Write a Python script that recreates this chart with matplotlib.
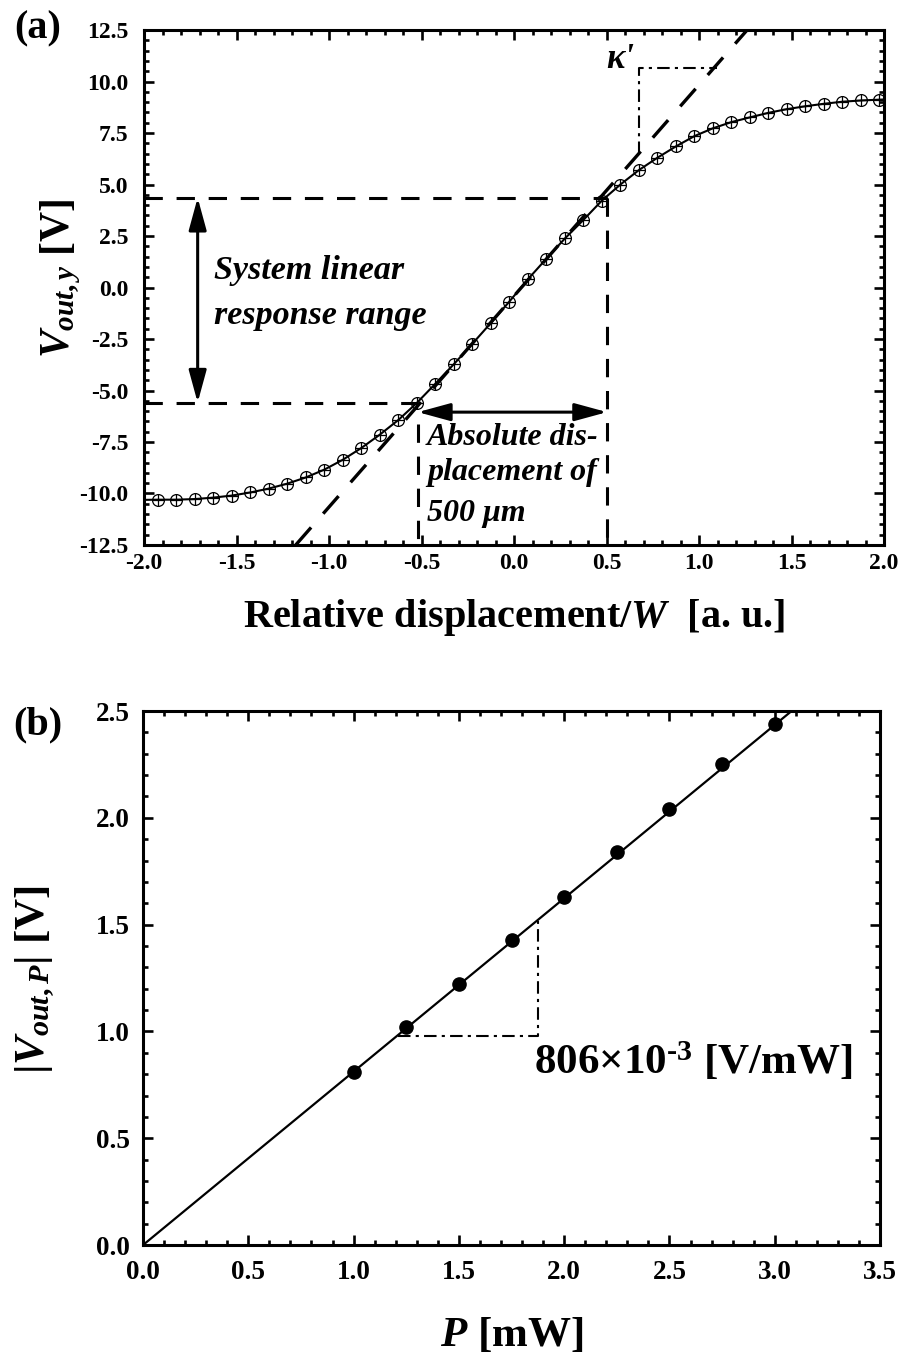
import matplotlib
matplotlib.use('Agg')
import matplotlib.pyplot as plt
from matplotlib.ticker import MultipleLocator, FormatStrFormatter

plt.rcParams['font.family'] = ['Liberation Serif', 'DejaVu Serif']
plt.rcParams['font.weight'] = 'bold'
plt.rcParams['mathtext.fontset'] = 'custom'
plt.rcParams['mathtext.rm'] = 'Liberation Serif:bold'
plt.rcParams['mathtext.it'] = 'Liberation Serif:italic:bold'
plt.rcParams['mathtext.bf'] = 'Liberation Serif:bold'
plt.rcParams['axes.unicode_minus'] = False

# (a) output voltage vs relative displacement
disp = [-1.925, -1.825, -1.725, -1.625, -1.525, -1.425, -1.325, -1.225, -1.125, -1.025,
        -0.925, -0.825, -0.725, -0.625, -0.525, -0.425, -0.325, -0.225, -0.125, -0.025,
        0.075, 0.175, 0.275, 0.375, 0.475, 0.575, 0.675, 0.775, 0.875, 0.975,
        1.075, 1.175, 1.275, 1.375, 1.475, 1.575, 1.675, 1.775, 1.875, 1.975]
vout_y = [-10.30, -10.30, -10.27, -10.20, -10.10, -9.95, -9.76, -9.52, -9.22, -8.84,
          -8.36, -7.79, -7.14, -6.43, -5.60, -4.67, -3.72, -2.73, -1.72, -0.68,
          0.40, 1.40, 2.38, 3.28, 4.22, 5.00, 5.70, 6.30, 6.85, 7.35,
          7.73, 8.03, 8.26, 8.48, 8.66, 8.80, 8.92, 9.02, 9.08, 9.12]
edge_x = [-2.0, 2.0]
edge_y = [-10.31, 9.13]

# tangent through the linear part
tangent_x = [-1.18, 1.26]
tangent_y = [-12.5, 12.5]

# limits of the linear response range
lin_x = [-0.52, 0.503]
lin_y = [-5.59, 4.36]
arrow_x = -1.71      # vertical double arrow
arrow_y = -6.05      # horizontal double arrow

# slope triangle (kappa')
kap_x = [0.677, 1.095]
kap_y = [6.50, 10.68]

# (b) output voltage vs optical power
power = [1.0, 1.25, 1.5, 1.75, 2.0, 2.25, 2.5, 2.75, 3.0]
vout_p = [0.81, 1.02, 1.22, 1.43, 1.63, 1.84, 2.04, 2.25, 2.44]
fit_p = [0.0, 3.08]
fit_v = [0.0, 2.5]
sens_x = [1.213, 1.878]
sens_y = [0.98, 1.527]

fig = plt.figure(figsize=(9.04, 13.53), dpi=100)
ax1 = fig.add_axes([0.1593, 0.5972, 0.8186, 0.3806])
ax2 = fig.add_axes([0.1582, 0.0798, 0.8153, 0.3947])


def style_axes(ax, size, pad_x, pad_y):
    for s in ax.spines.values():
        s.set_linewidth(2.2)
    ax.tick_params(which='both', direction='in', top=True, right=True,
                   width=1.9, labelsize=size)
    ax.tick_params(which='major', length=7)
    ax.tick_params(which='minor', length=3.5)
    ax.tick_params(axis='x', pad=pad_x)
    ax.tick_params(axis='y', pad=pad_y)
    ax.xaxis.set_major_formatter(FormatStrFormatter('%.1f'))
    ax.yaxis.set_major_formatter(FormatStrFormatter('%.1f'))


# ---- panel (a)
ax1.set_xlim(-2, 2)
ax1.set_ylim(-12.5, 12.5)
ylo = ax1.get_ylim()[0]
xlo = ax1.get_xlim()[0]
ax1.xaxis.set_major_locator(MultipleLocator(0.5))
ax1.xaxis.set_minor_locator(MultipleLocator(0.1))
ax1.yaxis.set_major_locator(MultipleLocator(2.5))
ax1.yaxis.set_minor_locator(MultipleLocator(0.5))
style_axes(ax1, 17, 6, 11)

dash = (0, (6.0, 4.5))
ax1.plot(tangent_x, tangent_y, color='k', lw=2.4, ls=(0, (7, 5.5)), zorder=2)
ax1.plot([xlo, lin_x[1]], [lin_y[1], lin_y[1]], color='k', lw=2.2, ls=dash, zorder=2)
ax1.plot([xlo, lin_x[0]], [lin_y[0], lin_y[0]], color='k', lw=2.2, ls=dash, zorder=2)
ax1.plot([lin_x[1], lin_x[1]], [lin_y[1], ylo], color='k', lw=2.2, ls=dash, zorder=2)
ax1.plot([lin_x[0], lin_x[0]], [arrow_y - 0.6, ylo], color='k', lw=2.2, ls=dash, zorder=2)

# slope triangle
ax1.plot([kap_x[0], kap_x[0], kap_x[1]], [kap_y[0], kap_y[1], kap_y[1]],
         color='k', lw=1.5, ls=(0, (6, 2.5, 1.5, 2.5)), zorder=2)
ax1.text(0.500, 11.05, "κ'", fontsize=25, style='italic', fontweight='bold',
         ha='left', va='center')

# response curve
ax1.plot([edge_x[0]] + disp + [edge_x[1]], [edge_y[0]] + vout_y + [edge_y[1]],
         color='k', lw=1.5, zorder=3)
ax1.plot(disp, vout_y, ls='none', marker='o', ms=8.5, mfc='none', mec='k', mew=0.9, zorder=4)
ax1.plot(disp, vout_y, ls='none', marker='+', ms=8.5, mec='k', mew=0.9, zorder=4)

arw = dict(arrowstyle='<|-|>,head_length=1.1,head_width=0.3', color='k', lw=2.2,
           shrinkA=0, shrinkB=0, mutation_scale=18)
ax1.annotate('', xy=(arrow_x, lin_y[1]), xytext=(arrow_x, lin_y[0]), arrowprops=arw, zorder=5)
ax1.annotate('', xy=(lin_x[0], arrow_y), xytext=(lin_x[1], arrow_y), arrowprops=arw, zorder=5)

ax1.text(-1.62, 0.82, 'System linear', fontsize=24.5, style='italic', fontweight='bold',
         ha='left', va='center')
ax1.text(-1.62, -1.36, 'response range', fontsize=24.5, style='italic', fontweight='bold',
         ha='left', va='center')
ax1.text(-0.47, -7.26, 'Absolute dis-', fontsize=23, style='italic', fontweight='bold',
         ha='left', va='center')
ax1.text(-0.47, -8.96, 'placement of', fontsize=23, style='italic', fontweight='bold',
         ha='left', va='center')
ax1.text(-0.47, -10.96, '500 μm', fontsize=23, style='italic', fontweight='bold',
         ha='left', va='center')

ax1.set_xlabel('Relative displacement/$W$  [a. u.]', fontsize=29, fontweight='bold')
ax1.set_ylabel('$V_{out,y}$ [V]', fontsize=30, fontweight='bold')
ax1.xaxis.label.set(va='center')
ax1.yaxis.label.set(va='center')
ax1.xaxis.set_label_coords(0.5, -0.140)
ax1.yaxis.set_label_coords(-0.112, 0.517)

# ---- panel (b)
ax2.set_xlim(0, 3.5)
ax2.set_ylim(0, 2.5)
ax2.xaxis.set_major_locator(MultipleLocator(0.5))
ax2.xaxis.set_minor_locator(MultipleLocator(0.1))
ax2.yaxis.set_major_locator(MultipleLocator(0.5))
ax2.yaxis.set_minor_locator(MultipleLocator(0.1))
style_axes(ax2, 19.5, 11, 9.5)

ax2.plot(fit_p, fit_v, color='k', lw=1.6, zorder=3)
ax2.plot(power, vout_p, ls='none', marker='o', ms=9.5, color='k', zorder=4)
ax2.plot([sens_x[0], sens_x[1], sens_x[1]], [sens_y[0], sens_y[0], sens_y[1]],
         color='k', lw=1.5, ls=(0, (6, 2.5, 1.5, 2.5)), zorder=2)
ax2.text(sens_x[1] - 0.02, sens_y[0] - 0.02, '806×10$^{\\mathbf{\u2010 3}}$ [V/mW]',
         fontsize=31, fontweight='bold', ha='left', va='top')

ax2.set_xlabel('$P$ [mW]', fontsize=31, fontweight='bold')
ax2.set_ylabel('|$V_{out,P}$| [V]', fontsize=31, fontweight='bold')
ax2.xaxis.label.set(va='center')
ax2.yaxis.label.set(va='center')
ax2.xaxis.set_label_coords(0.5, -0.169)
ax2.yaxis.set_label_coords(-0.146, 0.496)

fig.text(38 / 904, 1 - 29 / 1353, '(a)', fontsize=29, fontweight='bold', ha='center', va='center')
fig.text(38 / 904, 1 - 725 / 1353, '(b)', fontsize=29, fontweight='bold', ha='center', va='center')

fig.savefig('out.png', dpi=100)
